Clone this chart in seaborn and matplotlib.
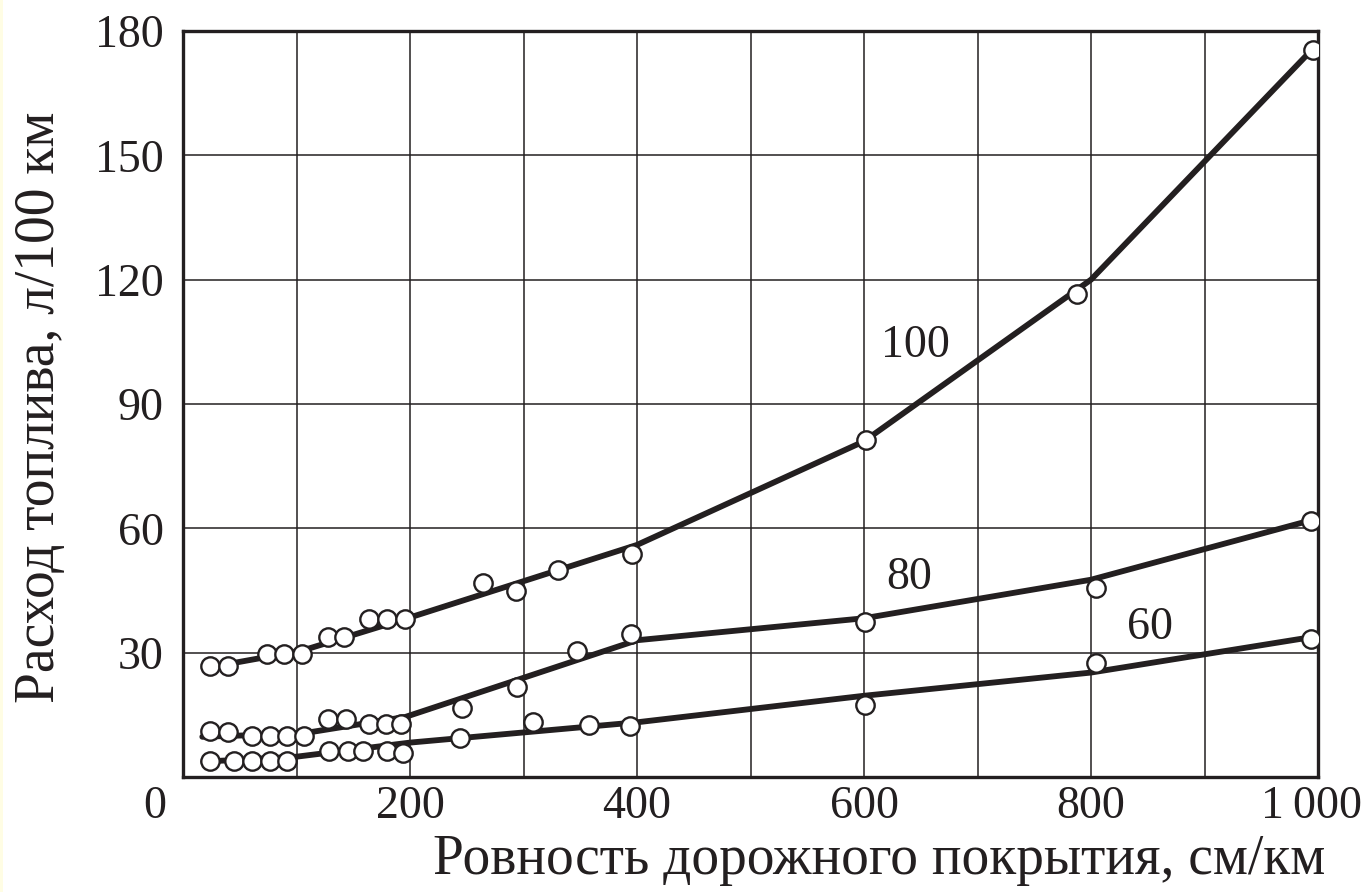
import numpy as np
import pandas as pd
import matplotlib
matplotlib.use("Agg")
import matplotlib.pyplot as plt
import matplotlib.transforms as mtransforms
from matplotlib.patches import Rectangle
import seaborn as sns

# ---------------- data ----------------
s100_mx = [24, 40, 74, 89, 105, 128, 142, 164, 180, 196, 264, 293, 330, 396, 602, 788, 996]
s100_my = [26.7, 26.7, 29.6, 29.6, 29.6, 33.7, 33.7, 38.1, 38.1, 38.1, 46.9, 44.8, 50.0, 53.8, 81.2, 116.6, 175.3]
s100_lx = [24, 105, 200, 400, 600, 800, 1000]
s100_ly = [26.5, 30.5, 38.5, 56.0, 81.0, 120.0, 177.0]

s80_mx = [24, 40, 61, 77, 92, 107, 128, 144, 164, 179, 192, 246, 294, 347, 395, 601, 804, 994]
s80_my = [11.2, 10.9, 10.0, 10.0, 10.0, 10.0, 14.1, 14.1, 12.8, 12.8, 12.8, 16.7, 21.8, 30.3, 34.4, 37.5, 45.7, 61.8]
s80_lx = [17, 105, 196, 400, 600, 800, 1000]
s80_ly = [9.7, 10.5, 14.5, 33.0, 38.3, 47.6, 62.4]

s60_mx = [24, 45, 61, 77, 92, 129, 145, 159, 180, 194, 244, 308, 358, 394, 601, 804, 994]
s60_my = [3.9, 3.9, 3.9, 3.9, 3.9, 6.3, 6.3, 6.3, 6.3, 5.9, 9.3, 13.2, 12.5, 12.4, 17.3, 27.6, 33.3]
s60_lx = [18, 100, 200, 400, 600, 800, 1000]
s60_ly = [3.7, 4.9, 8.3, 13.2, 19.6, 25.2, 34.0]

speed_labels = ["100", "80", "60"]
label_x = [645, 640, 852]
label_y = [104, 48, 36]

x_ticks = [200, 400, 600, 800, 1000]
x_tick_labels = ["200", "400", "600", "800", "1\u2009000"]
y_ticks = [30, 60, 90, 120, 150, 180]
y_tick_labels = ["30", "60", "90", "120", "150", "180"]

x_label = "Ровность дорожного покрытия, см/км"
y_label = "Расход топлива, л/100 км"

# ---------------- frames ----------------
lines_df = pd.concat([
    pd.DataFrame({"x": s100_lx, "y": s100_ly, "speed": "100"}),
    pd.DataFrame({"x": s80_lx, "y": s80_ly, "speed": "80"}),
    pd.DataFrame({"x": s60_lx, "y": s60_ly, "speed": "60"}),
], ignore_index=True)
pts_df = pd.concat([
    pd.DataFrame({"x": s100_mx, "y": s100_my, "speed": "100"}),
    pd.DataFrame({"x": s80_mx, "y": s80_my, "speed": "80"}),
    pd.DataFrame({"x": s60_mx, "y": s60_my, "speed": "60"}),
], ignore_index=True)

# ---------------- style ----------------
sns.set_theme(style="white")
plt.rcParams["font.family"] = ["Liberation Serif", "DejaVu Serif"]
INK = "#231f20"
FS = 33
FS_LABEL = 40

fig = plt.figure(figsize=(13.68, 8.92), dpi=100)
fig.patch.set_facecolor("white")
ax = fig.add_axes([183 / 1368, 1 - 777 / 892, (1318 - 183) / 1368, (777 - 31) / 892])

pal = {"100": INK, "80": INK, "60": INK}
sns.lineplot(data=lines_df, x="x", y="y", hue="speed", units="speed", estimator=None,
             sort=False, palette=pal, linewidth=4.2, legend=False, ax=ax, zorder=3)
sns.scatterplot(data=pts_df, x="x", y="y", hue="speed", palette=pal, s=175,
                facecolor="white", linewidth=1.7, legend=False, ax=ax, zorder=4)
for c in ax.collections:
    c.set_facecolor("white")
    c.set_edgecolor(INK)

ax.set_xlim(0, 1000)
ax.set_ylim(0, 180)

ax.xaxis.set_major_locator(matplotlib.ticker.FixedLocator(x_ticks))
ax.xaxis.set_minor_locator(matplotlib.ticker.FixedLocator([100, 300, 500, 700, 900]))
ax.yaxis.set_major_locator(matplotlib.ticker.FixedLocator(y_ticks))
ax.set_xticklabels(x_tick_labels)
ax.set_yticklabels(y_tick_labels)
ax.grid(True, which="major", color=INK, linewidth=1.1)
ax.grid(True, which="minor", axis="x", color=INK, linewidth=1.1)
ax.set_axisbelow(True)
ax.tick_params(axis="both", which="both", length=0, labelsize=FS, colors=INK)
ax.tick_params(axis="x", pad=6)
ax.tick_params(axis="y", pad=14)

for sp in ax.spines.values():
    sp.set_visible(True)
    sp.set_color(INK)
    sp.set_linewidth(2.4)

ax.set_xlabel("")
ax.set_ylabel("")

# shift the "1 000" label so that "000" sits under the tick
lbl = ax.get_xticklabels()[-1]
lbl.set_horizontalalignment("right")
lbl.set_transform(lbl.get_transform() + mtransforms.ScaledTranslation(0.44, 0, fig.dpi_scale_trans))

# origin "0" (aligned with the x tick labels)
ax.text(-0.0247, 0, "0", fontsize=FS, color=INK, ha="center", va="top",
        transform=ax.transAxes + mtransforms.ScaledTranslation(0, -6 / 72, fig.dpi_scale_trans))

# curve labels
for t, xx, yy in zip(speed_labels, label_x, label_y):
    ax.text(xx, yy, t, fontsize=FS, color=INK, ha="center", va="center", zorder=5)

# axis titles
fig.text(1325 / 1368, 1 - 860 / 892, x_label, fontsize=FS_LABEL, color=INK, ha="right", va="center")
fig.text(40 / 1368, 1 - 407 / 892, y_label, fontsize=FS_LABEL, color=INK, ha="center",
         va="center", rotation=90)

# thin cream strip at the left edge
fig.patches.append(Rectangle((0, 0), 3 / 1368, 1, transform=fig.transFigure,
                             facecolor="#fffde4", edgecolor="none"))

fig.savefig("out.png", dpi=100)
